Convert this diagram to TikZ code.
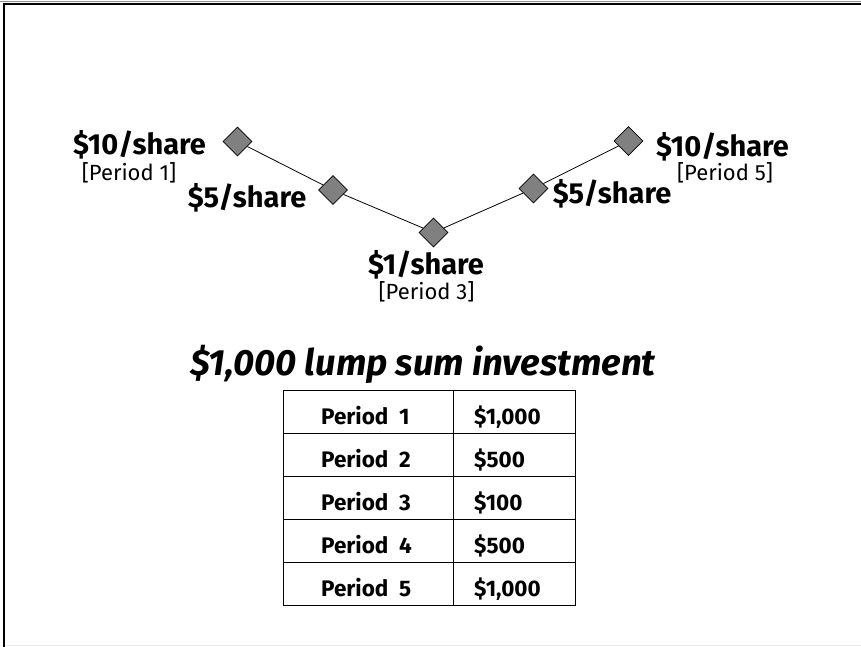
\documentclass[tikz,border=0pt]{standalone}
\usepackage{fontspec}
\setmainfont{Fira Sans}
\usetikzlibrary{shapes.geometric}
\begin{document}
\begin{tikzpicture}[x=1pt,y=-1pt,
  dia/.style={diamond,draw=black,line width=0.8pt,fill=black!50,inner sep=0pt,minimum width=29pt,minimum height=29pt},
  price/.style={anchor=base,inner sep=0pt,font=\fontsize{29}{31}\selectfont\bfseries},
  per/.style={anchor=base,inner sep=0pt,font=\fontsize{22}{24}\selectfont},
  cell/.style={anchor=base west,inner sep=0pt,font=\fontsize{22.5}{24}\selectfont\bfseries},
  conn/.style={draw=black,line width=0.8pt}]
\useasboundingbox (0,0) rectangle (861,647);
% frame
\draw[black!45,line width=1.2pt] (0,1.2) -- (861,1.2);
\draw[black,line width=2.6pt] (4,647) -- (4,4) -- (861,4);
\draw[black!8,line width=1.5pt] (5,645.5) -- (861,645.5);
% diamonds
\node[dia] (d1) at (237.5,141.5) {};
\node[dia] (d2) at (333,190) {};
\node[dia] (d3) at (433.5,232.5) {};
\node[dia] (d4) at (533.5,188.5) {};
\node[dia] (d5) at (628.5,141) {};
\draw[conn] (d1) -- (d2);
\draw[conn] (d2) -- (d3);
\draw[conn] (d3) -- (d4);
\draw[conn] (d4) -- (d5);
% labels
\node[price] (l1) at (139.5,155) {\$10/share};
\node[per] (p1) at (129,181) {[Period 1]};
\node[price] (l2) at (247,207) {\$5/share};
\node[price] (l3) at (426,274) {\$1/share};
\node[per] (p3) at (426.5,299) {[Period 3]};
\node[price] (l4) at (612,204) {\$5/share};
\node[price] (l5) at (722.5,157) {\$10/share};
\node[per] (p5) at (725,181) {[Period 5]};
% title
\node[anchor=base,inner sep=0pt,font=\fontsize{36.5}{40}\selectfont\bfseries\itshape] (title) at (423,375) {\$1,000 lump sum investment};
% table
\draw[black,line width=0.9pt] (283,390) rectangle (575,605);
\draw[black,line width=0.9pt] (453,390) -- (453,605);
\foreach \yy in {433,476,519,562} \draw[black,line width=0.9pt] (283,\yy) -- (575,\yy);
\node[cell] (r1a) at (321,424) {Period\ \ 1};
\node[cell] (r1b) at (474,424) {\$1,000};
\node[cell] (r2a) at (321,467) {Period\ \ 2};
\node[cell] (r2b) at (474,467) {\$500};
\node[cell] (r3a) at (321,510) {Period\ \ 3};
\node[cell] (r3b) at (474,510) {\$100};
\node[cell] (r4a) at (321,553) {Period\ \ 4};
\node[cell] (r4b) at (474,553) {\$500};
\node[cell] (r5a) at (321,596) {Period\ \ 5};
\node[cell] (r5b) at (474,596) {\$1,000};
\end{tikzpicture}
\end{document}
